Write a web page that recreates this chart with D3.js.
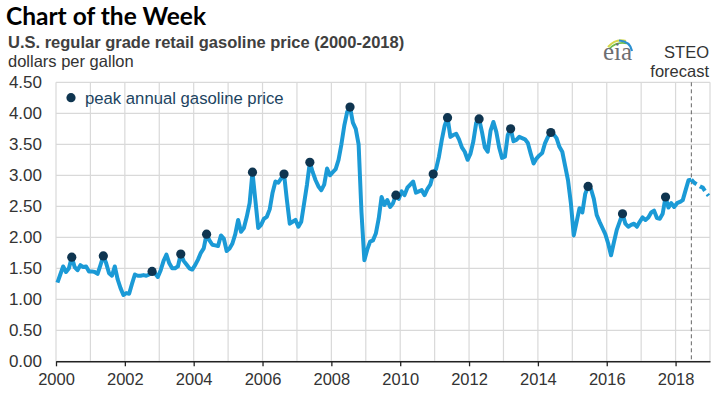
<!DOCTYPE html>
<html>
<head>
<meta charset="utf-8">
<script src="https://cdn.jsdelivr.net/npm/d3@7"></script>
<style>
  body { margin: 0; background: #fff; }
  svg { display: block; }
</style>
</head>
<body>
<div id="chart"></div>
<script>
// U.S. regular grade retail gasoline price, monthly, Jan 2000 - Dec 2018
const monthlyPrice = [
  // 2000
  1.27, 1.40, 1.53, 1.44, 1.50, 1.68, 1.52, 1.47, 1.55, 1.52, 1.53, 1.45,
  // 2001
  1.45, 1.44, 1.41, 1.55, 1.70, 1.58, 1.42, 1.38, 1.53, 1.32, 1.18, 1.07,
  // 2002
  1.10, 1.09, 1.25, 1.40, 1.38, 1.38, 1.39, 1.38, 1.40, 1.45, 1.42, 1.36,
  // 2003
  1.47, 1.62, 1.72, 1.58, 1.50, 1.50, 1.53, 1.73, 1.62, 1.56, 1.50, 1.48,
  // 2004
  1.55, 1.64, 1.75, 1.82, 2.05, 1.95, 1.88, 1.87, 1.86, 2.03, 1.98, 1.78,
  // 2005
  1.82, 1.90, 2.05, 2.28, 2.09, 2.15, 2.33, 2.55, 3.05, 2.60, 2.15, 2.20,
  // 2006
  2.30, 2.33, 2.45, 2.72, 2.90, 2.88, 2.95, 3.02, 2.60, 2.22, 2.25, 2.28,
  // 2007
  2.17, 2.25, 2.55, 2.85, 3.21, 3.05, 2.92, 2.82, 2.76, 2.85, 3.11, 3.00,
  // 2008
  3.05, 3.10, 3.25, 3.50, 3.80, 4.02, 4.10, 3.85, 3.75, 3.50, 2.40, 1.63,
  // 2009
  1.80, 1.93, 1.95, 2.06, 2.30, 2.65, 2.52, 2.60, 2.49, 2.55, 2.68, 2.62,
  // 2010
  2.74, 2.68, 2.80, 2.85, 2.90, 2.72, 2.74, 2.76, 2.68, 2.78, 2.85, 3.02,
  // 2011
  3.10, 3.30, 3.57, 3.80, 3.93, 3.62, 3.65, 3.67, 3.58, 3.45, 3.38, 3.25,
  // 2012
  3.35, 3.55, 3.85, 3.91, 3.70, 3.45, 3.38, 3.72, 3.86, 3.70, 3.45, 3.28,
  // 2013
  3.30, 3.65, 3.75, 3.55, 3.57, 3.62, 3.60, 3.58, 3.52, 3.35, 3.19, 3.27,
  // 2014
  3.32, 3.36, 3.52, 3.62, 3.69, 3.66, 3.60, 3.46, 3.38, 3.15, 2.92, 2.55,
  // 2015
  2.03, 2.25, 2.47, 2.40, 2.70, 2.82, 2.78, 2.62, 2.36, 2.25, 2.15, 2.05,
  // 2016
  1.90, 1.71, 1.92, 2.12, 2.25, 2.38, 2.22, 2.17, 2.20, 2.22, 2.17, 2.25,
  // 2017
  2.32, 2.28, 2.32, 2.40, 2.43, 2.31, 2.30, 2.38, 2.65, 2.48, 2.55, 2.49,
  // 2018 (STEO forecast from June on)
  2.55, 2.57, 2.60, 2.76, 2.92, 2.93, 2.88, 2.85, 2.82, 2.80, 2.73, 2.67
];
const startYear = 2000;
const forecastStartIndex = 18 * 12 + 5;   // June 2018
const peakYears = d3.range(2000, 2018);    // years that get a peak dot
const yTicks = [0, 0.5, 1, 1.5, 2, 2.5, 3, 3.5, 4, 4.5];
const xLabelYears = [2000, 2002, 2004, 2006, 2008, 2010, 2012, 2014, 2016, 2018];
const gridYears = d3.range(2000, 2020);

// Declare the chart dimensions and margins.
const width = 717;
const height = 396;
const marginTop = 82.3;
const marginRight = 7;
const marginBottom = 34.7;
const marginLeft = 56;

const lineBlue = "#1b9ad6";
const dotNavy = "#0f3550";
const textGrey = "#333333";

const graph = d3.create("svg")
    .attr("width", width)
    .attr("height", height)
    .style("font-family", "'Liberation Sans', Arial, sans-serif");

// month i sits in the middle of its month
const data = monthlyPrice.map((p, i) => ({ date: startYear + (i + 0.5) / 12, price: p, year: startYear + Math.floor(i / 12) }));

const xscale = d3.scaleLinear()
    .domain([2000, 2019])
    .range([marginLeft, width - marginRight]);

const yscale = d3.scaleLinear()
    .domain([0, 4.5])
    .range([height - marginBottom, marginTop]);

// Gridlines
graph.append("g")
    .selectAll("line")
    .data(yTicks)
    .join("line")
    .attr("x1", xscale(2000))
    .attr("x2", xscale(2019))
    .attr("y1", d => yscale(d))
    .attr("y2", d => yscale(d))
    .attr("stroke", "#d9d9d9")
    .attr("stroke-width", 1.2);

graph.append("g")
    .selectAll("line")
    .data(gridYears)
    .join("line")
    .attr("x1", d => xscale(d))
    .attr("x2", d => xscale(d))
    .attr("y1", yscale(4.5))
    .attr("y2", yscale(0))
    .attr("stroke", "#d9d9d9")
    .attr("stroke-width", 1.2);

// x-axis
const xAxis = graph.append("g")
    .attr("transform", `translate(0, ${yscale(0)})`)
    .call(d3.axisBottom(xscale).tickValues(xLabelYears).tickFormat(d3.format("d")).tickSize(5).tickSizeOuter(0));
xAxis.select(".domain").attr("stroke", "#222").attr("stroke-width", 1.5);
xAxis.selectAll(".tick line").attr("stroke", "#222").attr("stroke-width", 1.3);
xAxis.selectAll(".tick text")
    .attr("y", 12)
    .attr("font-size", 16.5)
    .attr("font-family", "'Liberation Sans', Arial, sans-serif")
    .attr("fill", textGrey);

// y-axis labels only
const yAxis = graph.append("g")
    .attr("transform", `translate(${marginLeft},0)`)
    .call(d3.axisLeft(yscale).tickValues(yTicks).tickFormat(d3.format(".2f")).tickSize(0).tickPadding(14));
yAxis.select(".domain").remove();
yAxis.selectAll(".tick text")
    .attr("font-size", 17)
    .attr("font-family", "'Liberation Sans', Arial, sans-serif")
    .attr("fill", textGrey);

// forecast divider
const forecastX = xscale(data[forecastStartIndex].date);
graph.append("line")
    .attr("x1", forecastX)
    .attr("x2", forecastX)
    .attr("y1", yscale(4.5))
    .attr("y2", yscale(0))
    .attr("stroke", "#666")
    .attr("stroke-width", 1)
    .attr("stroke-dasharray", "4,3");

// Lines: history solid, forecast dashed
const lineGenerator = d3.line()
    .x(d => xscale(d.date))
    .y(d => yscale(d.price));

graph.append("path")
    .attr("fill", "none")
    .attr("stroke", lineBlue)
    .attr("stroke-width", 4)
    .attr("stroke-linejoin", "round")
    .attr("d", lineGenerator(data.slice(0, forecastStartIndex + 1)));

graph.append("path")
    .attr("fill", "none")
    .attr("stroke", lineBlue)
    .attr("stroke-width", 4)
    .attr("stroke-dasharray", "7,4")
    .attr("d", lineGenerator(data.slice(forecastStartIndex)));

// Peak annual price dots
const peaks = peakYears.map(yr => d3.greatest(data.filter(d => d.year === yr), d => d.price));
graph.append("g")
    .selectAll("circle")
    .data(peaks)
    .join("circle")
    .attr("cx", d => xscale(d.date))
    .attr("cy", d => yscale(d.price))
    .attr("r", 4.6)
    .attr("fill", dotNavy);

// Legend
graph.append("circle")
    .attr("cx", 71)
    .attr("cy", 97.7)
    .attr("r", 4.6)
    .attr("fill", dotNavy);
graph.append("text")
    .attr("x", 85)
    .attr("y", 103.5)
    .attr("font-size", 16.7)
    .attr("fill", "#1c4461")
    .text("peak annual gasoline price");

// Titles
graph.append("text")
    .attr("x", 6)
    .attr("y", 25)
    .attr("font-family", "Lato, 'Open Sans', sans-serif")
    .attr("font-weight", "bold")
    .attr("font-size", 24.5)
    .attr("fill", "#000")
    .text("Chart of the Week");

graph.append("text")
    .attr("x", 8)
    .attr("y", 47.5)
    .attr("font-weight", "bold")
    .attr("font-size", 16.5)
    .attr("fill", "#404040")
    .text("U.S. regular grade retail gasoline price (2000-2018)");

graph.append("text")
    .attr("x", 8)
    .attr("y", 67)
    .attr("font-size", 16.5)
    .attr("fill", textGrey)
    .text("dollars per gallon");

graph.append("text")
    .attr("x", 709)
    .attr("y", 57.5)
    .attr("text-anchor", "end")
    .attr("font-size", 16.5)
    .attr("fill", textGrey)
    .text("STEO");

graph.append("text")
    .attr("x", 709)
    .attr("y", 77)
    .attr("text-anchor", "end")
    .attr("font-size", 16.5)
    .attr("fill", textGrey)
    .text("forecast");

// eia logo
const logo = graph.append("g").attr("transform", "translate(603,60)");
logo.append("path")
    .attr("d", "M5,-13 Q13,-22 23,-19")
    .attr("fill", "none").attr("stroke", "#d6d84a").attr("stroke-width", 2);
logo.append("path")
    .attr("d", "M6,-11 Q14,-19 24,-16.5")
    .attr("fill", "none").attr("stroke", "#6dbb4a").attr("stroke-width", 1.6);
logo.append("path")
    .attr("d", "M16,-19.5 Q27,-19 29,-9")
    .attr("fill", "none").attr("stroke", "#2a8fd0").attr("stroke-width", 2.2);
logo.append("text")
    .attr("x", 0)
    .attr("y", 0)
    .attr("font-family", "'Liberation Serif', 'DejaVu Serif', serif")
    .attr("font-size", 25)
    .attr("fill", "#6d6e71")
    .text("eia");

chart.append(graph.node());
</script>
</body>
</html>
